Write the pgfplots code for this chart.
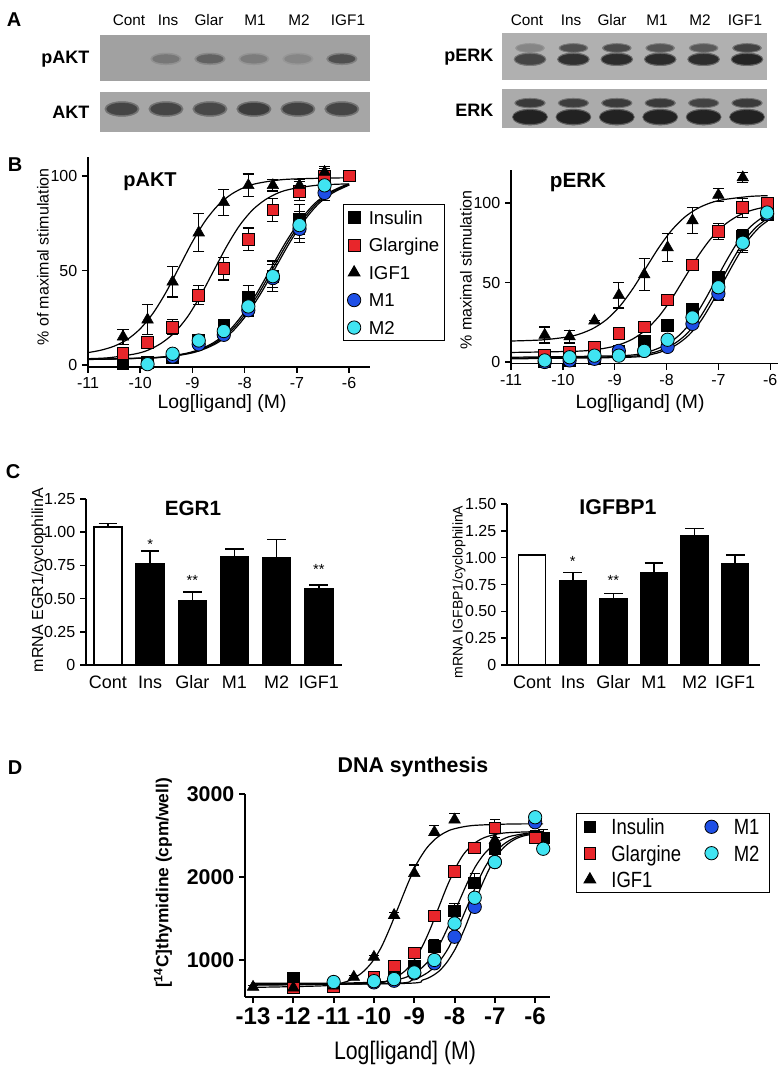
\documentclass[border=0pt]{standalone}
\usepackage{fontspec}
\setmainfont{Liberation Sans}
\newfontfamily\narrowfont[FakeStretch=0.84]{Liberation Sans}
\usepackage{pgfplots}
\pgfplotsset{compat=1.18}
\definecolor{myred}{HTML}{E8262B}
\definecolor{myblue}{HTML}{1E4FE6}
\definecolor{mycyan}{HTML}{40E4F2}
\newcommand{\fs}[2]{\fontsize{#1}{#2}\selectfont}
\pgfplotsset{
  blot/.style={scale only axis, ymin=0, ymax=1, xtick=\empty, ytick=\empty,
    axis line style={draw=none}, clip=true,
    colormap={bl}{gray(0cm)=(0.63); gray(1cm)=(0.12)},
    point meta min=0, point meta max=1},
  band/.style={scatter, only marks, mark=*, point meta=explicit,
    scatter/use mapped color={draw=mapped color, fill=mapped color}},
  gp/.style={scale only axis, axis lines*=left, clip=false,
    axis line style={line width=1.1pt},
    every tick/.style={line width=1.1pt, black},
    tick align=outside, major tick length=4.5pt,
    tick label style={font=\fs{12}{14}}},
  sq/.style={only marks, mark=square*, mark size=4.4pt, mark options={draw=black, line width=0.6pt}},
  tri/.style={only marks, mark=triangle*, mark size=5pt, mark options={draw=black, fill=black}},
  circ/.style={only marks, mark=*, mark size=5pt, mark options={draw=black, line width=0.6pt}},
  eb/.style={error bars/y dir=#1, error bars/y explicit,
    error bars/error bar style={line width=0.9pt, black},
    error bars/error mark options={rotate=90, mark size=4.2pt, line width=0.9pt, black}},
  ebd/.style={error bars/y dir=plus, error bars/y explicit,
    error bars/error bar style={line width=0.9pt, black},
    error bars/error mark options={rotate=90, mark size=3.8pt, line width=0.9pt, black}},
  fit/.style={smooth, line width=0.9pt, black, forget plot, no marks},
}
\begin{document}
\begin{tikzpicture}
\path[use as bounding box] (0,0) rectangle (588pt,800.25pt);

% ---------- panel letters ----------
\node[font=\bfseries\fs{15}{18}] at (10.5pt,785.25pt) {A};
\node[font=\bfseries\fs{15}{18}] at (11.25pt,676.5pt) {B};
\node[font=\bfseries\fs{15}{18}] at (9.75pt,446.25pt) {C};
\node[font=\bfseries\fs{15}{18}] at (11.25pt,224.25pt) {D};

% ---------- A: blots ----------
\begin{axis}[blot, at={(75pt,739.5pt)}, anchor=south west, width=202.5pt, height=34.5pt,
  xmin=0.5, xmax=6.64, axis background/.style={fill=black!37}]
\addplot[band, mark size=4.4pt, mark options={xscale=2.6}] coordinates {
 (2,0.48) [0.12] (3,0.48) [0.18] (4,0.48) [0.1] (5,0.48) [0.07] (6,0.48) [0.25]};
\addplot[band, mark size=3.2pt, mark options={xscale=3.1}] coordinates {
 (2,0.48) [0.32] (3,0.48) [0.48] (4,0.48) [0.28] (5,0.48) [0.2] (6,0.48) [0.62]};
\end{axis}
\begin{axis}[blot, at={(75pt,701.25pt)}, anchor=south west, width=202.5pt, height=30pt,
  xmin=0.5, xmax=6.64, axis background/.style={fill=black!35}]
\addplot[band, mark size=5.6pt, mark options={xscale=2.3}] coordinates {
 (1,0.575) [0.35] (2,0.575) [0.35] (3,0.575) [0.35] (4,0.575) [0.38] (5,0.575) [0.35] (6,0.575) [0.35]};
\addplot[band, mark size=4.4pt, mark options={xscale=2.6}] coordinates {
 (1,0.575) [0.7] (2,0.575) [0.7] (3,0.575) [0.68] (4,0.575) [0.76] (5,0.575) [0.72] (6,0.575) [0.7]};
\end{axis}
\begin{axis}[blot, at={(376.5pt,740.25pt)}, anchor=south west, width=198.75pt, height=35.25pt,
  xmin=0.355, xmax=6.46, axis background/.style={fill=black!31}]
\addplot[band, mark size=3.4pt, mark options={xscale=3.2}] coordinates {
 (1,0.68) [0.1] (2,0.68) [0.3] (3,0.68) [0.32] (4,0.68) [0.28] (5,0.68) [0.26] (6,0.68) [0.36]};
\addplot[band, mark size=2.6pt, mark options={xscale=3.7}] coordinates {
 (1,0.68) [0.2] (2,0.68) [0.62] (3,0.68) [0.66] (4,0.68) [0.58] (5,0.68) [0.55] (6,0.68) [0.72]};
\addplot[band, mark size=4.8pt, mark options={xscale=2.5}] coordinates {
 (1,0.44) [0.35] (2,0.44) [0.42] (3,0.44) [0.45] (4,0.44) [0.45] (5,0.44) [0.44] (6,0.44) [0.47]};
\addplot[band, mark size=3.8pt, mark options={xscale=2.9}] coordinates {
 (1,0.44) [0.7] (2,0.44) [0.86] (3,0.44) [0.9] (4,0.44) [0.9] (5,0.44) [0.88] (6,0.44) [0.95]};
\end{axis}
\begin{axis}[blot, at={(376.5pt,704.25pt)}, anchor=south west, width=198.75pt, height=29.25pt,
  xmin=0.355, xmax=6.46, axis background/.style={fill=black!33}]
\addplot[band, mark size=3.6pt, mark options={xscale=3.2}] coordinates {
 (1,0.64) [0.38] (2,0.64) [0.36] (3,0.64) [0.38] (4,0.64) [0.38] (5,0.64) [0.34] (6,0.64) [0.38]};
\addplot[band, mark size=2.8pt, mark options={xscale=3.7}] coordinates {
 (1,0.64) [0.78] (2,0.64) [0.75] (3,0.64) [0.78] (4,0.64) [0.78] (5,0.64) [0.72] (6,0.64) [0.78]};
\addplot[band, mark size=6pt, mark options={xscale=2.2}] coordinates {
 (1,0.28) [0.5] (2,0.28) [0.5] (3,0.28) [0.5] (4,0.28) [0.5] (5,0.28) [0.5] (6,0.28) [0.5]};
\addplot[band, mark size=5pt, mark options={xscale=2.5}] coordinates {
 (1,0.28) [0.97] (2,0.28) [0.97] (3,0.28) [0.97] (4,0.28) [0.97] (5,0.28) [0.97] (6,0.28) [0.97]};
\end{axis}
\begin{scope}[font=\fs{11.5}{13}]
\node at (96.75pt,785.25pt) {Cont};
\node at (126pt,785.25pt) {Ins};
\node at (156.75pt,785.25pt) {Glar};
\node at (191.25pt,785.25pt) {M1};
\node at (224.25pt,785.25pt) {M2};
\node at (261pt,785.25pt) {IGF1};
\node at (395.25pt,785.25pt) {Cont};
\node at (428.25pt,785.25pt) {Ins};
\node at (459pt,785.25pt) {Glar};
\node at (492.75pt,785.25pt) {M1};
\node at (525pt,785.25pt) {M2};
\node at (558.75pt,785.25pt) {IGF1};
\end{scope}
\begin{scope}[font=\bfseries\fs{13.5}{16}]
\node[anchor=east] at (70.5pt,756pt) {pAKT};
\node[anchor=east] at (70.5pt,716.25pt) {AKT};
\node[anchor=east] at (373.5pt,757.5pt) {pERK};
\node[anchor=east] at (373.5pt,717.75pt) {ERK};
\end{scope}

% ---------- B left: pAKT ----------
\begin{axis}[gp, at={(66pt,525pt)}, anchor=south west, width=211.5pt, height=157.5pt,
  xmin=-11, xmax=-5.6, ymin=-1, ymax=110,
  xtick={-11,-10,-9,-8,-7,-6}, xticklabels={-11,-10,-9,-8,-7,-6},
  ytick={0,50,100}, yticklabels={0,50,100},
  legend style={at={(0.904,0.776)}, anchor=north west, draw=black, line width=0.8pt,
    font=\fs{14}{16}, row sep=7.9pt, inner xsep=3pt, inner ysep=3.5pt,
    nodes={inner xsep=1pt, inner ysep=0pt},
    /tikz/every odd column/.style={column sep=5pt}},
  legend cell align=left]
\addlegendimage{sq, fill=black}\addlegendentry{\strut Insulin}
\addlegendimage{sq, fill=myred}\addlegendentry{\strut Glargine}
\addlegendimage{tri}\addlegendentry{\strut IGF1}
\addlegendimage{circ, fill=myblue}\addlegendentry{\strut M1}
\addlegendimage{circ, fill=mycyan}\addlegendentry{\strut M2}
\addplot[fit] coordinates {(-11,6.6) (-10.75,7.9) (-10.5,10.0) (-10.25,13.5) (-10,19.2) (-9.75,27.6) (-9.5,38.8) (-9.25,52) (-9,65.2) (-8.75,76.4) (-8.5,84.8) (-8.25,90.4) (-8,94.0) (-7.75,96.1) (-7.25,98.1) (-6.5,98.8) (-6,99.0)};
\addplot[fit] coordinates {(-11,3.4) (-10.6,3.9) (-10.1,5.9) (-9.85,7.9) (-9.6,11.5) (-9.35,17.0) (-9.1,25.3) (-8.85,36.5) (-8.6,49.5) (-8.35,62.5) (-8.1,73.7) (-7.85,82.0) (-7.6,87.5) (-7.35,91.1) (-7.1,93.1) (-6.6,95.1) (-6,95.8)};
\addplot[fit] coordinates {(-11,3.05) (-10.78,3.1) (-9.67,4.0) (-9.12,6.0) (-8.84,8.2) (-8.56,11.8) (-8.28,17.6) (-8.01,26.3) (-7.73,37.9) (-7.45,51.5) (-7.17,65.1) (-6.89,76.7) (-6.62,85.4) (-6.34,91.2) (-6.06,94.9) (-6,95.4)};
\addplot[fit] coordinates {(-11,3.0) (-10.74,3.1) (-9.63,4.0) (-9.08,6.0) (-8.80,8.2) (-8.52,11.8) (-8.24,17.6) (-7.97,26.3) (-7.69,37.9) (-7.41,51.5) (-7.13,65.1) (-6.85,76.7) (-6.58,85.4) (-6.30,91.2) (-6.02,94.9) (-6,95.1)};
\addplot[fit] coordinates {(-11,3.1) (-10.82,3.1) (-9.71,4.0) (-9.16,6.0) (-8.88,8.2) (-8.60,11.8) (-8.32,17.6) (-8.05,26.3) (-7.77,37.9) (-7.49,51.5) (-7.21,65.1) (-6.93,76.7) (-6.66,85.4) (-6.38,91.2) (-6.10,94.9) (-6,95.7)};
% data
\addplot[sq, fill=black, eb=both, forget plot] coordinates {(-10.33,1) +- (0,1) (-9.86,1.5) +- (0,1) (-9.38,4) +- (0,2) (-8.88,13) +- (0,2) (-8.40,21) +- (0,3) (-7.93,36) +- (0,6) (-7.46,47) +- (0,8) (-6.95,77) +- (0,8) (-6.47,97) +- (0,4)};
\addplot[sq, fill=myred, eb=both, forget plot] coordinates {(-10.33,6) +- (0,2) (-9.86,12) +- (0,3) (-9.38,20) +- (0,4) (-8.88,37) +- (0,5) (-8.40,51) +- (0,6) (-7.93,66.5) +- (0,6) (-7.46,82) +- (0,6) (-6.95,92) +- (0,5) (-6.47,100) +- (0,4) (-6.0,100) +- (0,0)};
\addplot[tri, eb=both, forget plot] coordinates {(-10.33,15) +- (0,4) (-9.86,24) +- (0,8) (-9.38,44) +- (0,8) (-8.88,70) +- (0,10) (-8.40,86) +- (0,7) (-7.93,95) +- (0,6) (-7.46,95) +- (0,3) (-6.95,95) +- (0,3) (-6.47,102) +- (0,3)};
\addplot[circ, fill=myblue, eb=both, forget plot] coordinates {(-9.38,4.5) +- (0,1) (-8.88,11) +- (0,2) (-8.40,16) +- (0,2) (-7.93,29) +- (0,3) (-7.46,46) +- (0,7) (-6.95,72) +- (0,7) (-6.47,91) +- (0,4)};
\addplot[circ, fill=mycyan, eb=both, forget plot] coordinates {(-9.86,0.5) +- (0,1) (-9.38,6) +- (0,1) (-8.88,13) +- (0,2) (-8.40,18) +- (0,2) (-7.93,31) +- (0,3) (-7.46,47) +- (0,6) (-6.95,74) +- (0,7) (-6.47,95) +- (0,4)};
\end{axis}
\node[font=\bfseries\fs{15}{18}] at (112.5pt,663.75pt) {pAKT};
\node[rotate=90, font=\fs{12}{14}] at (32.25pt,607.5pt) {\% of maximal stimulation};
\node[font=\fs{14.5}{17}] at (166.5pt,497.25pt) {Log[ligand] (M)};

% ---------- B right: pERK ----------
\begin{axis}[gp, at={(383.25pt,527.55pt)}, anchor=south west, width=200.25pt, height=145.5pt,
  xmin=-11, xmax=-5.85, ymin=-1, ymax=121,
  xtick={-11,-10,-9,-8,-7,-6}, xticklabels={-11,-10,-9,-8,-7,-6},
  ytick={0,50,100}, yticklabels={0,50,100}]
\addplot[fit] coordinates {(-11,13.2) (-10.4,13.9) (-9.9,15.8) (-9.65,17.9) (-9.4,21.4) (-9.15,26.9) (-8.9,35.1) (-8.65,46.1) (-8.4,59) (-8.15,71.9) (-7.9,82.9) (-7.65,91.1) (-7.4,96.6) (-7.15,100.1) (-6.9,102.1) (-6.4,104.1) (-6.05,104.6)};
\addplot[fit] coordinates {(-11,6.0) (-9.65,6.9) (-9.15,8.9) (-8.9,11.0) (-8.65,14.5) (-8.4,20.2) (-8.15,28.6) (-7.9,39.8) (-7.65,53) (-7.4,66.2) (-7.15,77.4) (-6.9,85.8) (-6.65,91.4) (-6.4,95.0) (-6.15,97.1) (-6.05,97.6)};
\addplot[fit] coordinates {(-11,3.0) (-8.87,4.0) (-8.41,6.0) (-8.19,8.2) (-7.96,11.8) (-7.73,17.6) (-7.50,26.3) (-7.28,37.9) (-7.05,51.5) (-6.82,65.1) (-6.60,76.7) (-6.37,85.4) (-6.14,91.2) (-6.05,92.6)};
\addplot[fit] coordinates {(-11,2.5) (-8.77,3.5) (-8.31,5.5) (-8.09,7.7) (-7.86,11.3) (-7.63,17.1) (-7.40,25.8) (-7.18,37.4) (-6.95,51) (-6.72,64.6) (-6.50,76.2) (-6.27,84.9) (-6.05,90.3)};
\addplot[fit] coordinates {(-11,2) (-8.72,3) (-8.26,5) (-8.04,7.2) (-7.81,10.8) (-7.58,16.6) (-7.35,25.3) (-7.13,36.9) (-6.90,50.5) (-6.67,64.1) (-6.45,75.7) (-6.22,84.4) (-6.05,88.7)};
\addplot[sq, fill=black, eb=both] coordinates {(-10.35,0) +- (0,1) (-9.87,1) +- (0,1) (-9.39,2) +- (0,1) (-8.92,7) +- (0,2) (-8.43,13) +- (0,2) (-7.98,23) +- (0,1) (-7.50,33) +- (0,2) (-7.0,53) +- (0,4) (-6.53,79) +- (0,4) (-6.06,93) +- (0,3)};
\addplot[sq, fill=myred, eb=both] coordinates {(-10.35,4) +- (0,1) (-9.87,6) +- (0,2) (-9.39,9) +- (0,1) (-8.92,18) +- (0,1) (-8.43,22) +- (0,3) (-7.98,39) +- (0,2) (-7.50,61) +- (0,2) (-7.0,82) +- (0,5) (-6.53,97) +- (0,6) (-6.06,100) +- (0,0)};
\addplot[tri, eb=both] coordinates {(-10.35,17) +- (0,5) (-9.87,16) +- (0,4) (-9.39,26) +- (0,0) (-8.92,42) +- (0,8) (-8.43,55) +- (0,10) (-7.98,72) +- (0,9) (-7.50,89) +- (0,8) (-7.0,105) +- (0,4) (-6.53,116) +- (0,3)};
\addplot[circ, fill=myblue, eb=both] coordinates {(-10.35,0) +- (0,1) (-9.87,1) +- (0,2) (-9.39,2) +- (0,2) (-8.92,7) +- (0,2) (-8.43,7) +- (0,3) (-7.98,9.5) +- (0,3) (-7.50,24) +- (0,2) (-7.0,43) +- (0,4) (-6.53,75) +- (0,5) (-6.06,93) +- (0,4)};
\addplot[circ, fill=mycyan, eb=both] coordinates {(-10.35,1) +- (0,1) (-9.87,3) +- (0,1) (-9.39,4) +- (0,1) (-8.92,4) +- (0,1) (-8.43,7) +- (0,2) (-7.98,14) +- (0,2) (-7.50,28) +- (0,3) (-7.0,47) +- (0,4) (-6.53,75) +- (0,6) (-6.06,94) +- (0,4)};
\end{axis}
\node[font=\bfseries\fs{15.5}{18}] at (433.5pt,663pt) {pERK};
\node[rotate=90, font=\fs{12}{14}] at (349.5pt,597.75pt) {\% maximal stimulation};
\node[font=\fs{14.5}{17}] at (480pt,497.25pt) {Log[ligand] (M)};

% ---------- C left: EGR1 ----------
\begin{axis}[gp, at={(64.5pt,301.5pt)}, anchor=south west, width=192pt, height=124.5pt,
  xmin=-0.52, xmax=5.55, ymin=0, ymax=1.25,
  xtick={0,1,2,3,4,5}, xticklabels={Cont,Ins,Glar,M1,M2,IGF1},
  x tick style={draw=none},
  x tick label style={font=\fs{13.5}{16}},
  y tick label style={font=\fs{12}{14}},
  ytick={0,0.25,0.5,0.75,1,1.25}, yticklabels={0,0.25,0.50,0.75,1.00,1.25}]
\addplot[ybar, bar width=21pt, bar shift=0pt, fill=white, draw=black, line width=1.1pt,
  error bars/.cd, y dir=plus, y explicit, error bar style={line width=1.1pt, black},
  error mark options={rotate=90, mark size=7pt, line width=1.1pt, black}]
  coordinates {(0,1.04) +- (0,0.025)};
\addplot[ybar, bar width=21pt, bar shift=0pt, fill=black, draw=black, line width=1.1pt,
  error bars/.cd, y dir=plus, y explicit, error bar style={line width=1.1pt, black},
  error mark options={rotate=90, mark size=7pt, line width=1.1pt, black}]
  coordinates {(1,0.765) +- (0,0.095) (2,0.485) +- (0,0.065) (3,0.815) +- (0,0.06) (4,0.805) +- (0,0.14) (5,0.572) +- (0,0.03)};
\node[font=\fs{11}{13}] at (axis cs:1,0.91) {*};
\node[font=\fs{11}{13}] at (axis cs:2,0.64) {**};
\node[font=\fs{11}{13}] at (axis cs:5,0.72) {**};
\end{axis}
\node[font=\bfseries\fs{15.5}{18}] at (144.75pt,419.25pt) {EGR1};
\node[rotate=90, font=\fs{12}{14}] at (29.25pt,365.25pt) {mRNA EGR1/cyclophilinA};

% ---------- C right: IGFBP1 ----------
\begin{axis}[gp, at={(380.25pt,301.5pt)}, anchor=south west, width=189.4pt, height=120.75pt,
  xmin=-0.62, xmax=5.6, ymin=0, ymax=1.5,
  xtick={0,1,2,3,4,5}, xticklabels={Cont,Ins,Glar,M1,M2,IGF1},
  x tick style={draw=none},
  x tick label style={font=\fs{13.5}{16}},
  y tick label style={font=\fs{12}{14}},
  ytick={0,0.25,0.5,0.75,1,1.25,1.5}, yticklabels={0,0.25,0.50,0.75,1.00,1.25,1.50}]
\addplot[ybar, bar width=20.25pt, bar shift=0pt, fill=white, draw=black, line width=1.1pt,
  error bars/.cd, y dir=plus, y explicit, error bar style={line width=1.1pt, black},
  error mark options={rotate=90, mark size=7pt, line width=1.1pt, black}]
  coordinates {(0,1.025) +- (0,0.005)};
\addplot[ybar, bar width=20.25pt, bar shift=0pt, fill=black, draw=black, line width=1.1pt,
  error bars/.cd, y dir=plus, y explicit, error bar style={line width=1.1pt, black},
  error mark options={rotate=90, mark size=7pt, line width=1.1pt, black}]
  coordinates {(1,0.785) +- (0,0.075) (2,0.615) +- (0,0.05) (3,0.855) +- (0,0.095) (4,1.2) +- (0,0.07) (5,0.94) +- (0,0.085)};
\node[font=\fs{11}{13}] at (axis cs:1,0.96) {*};
\node[font=\fs{11}{13}] at (axis cs:2,0.79) {**};
\end{axis}
\node[font=\bfseries\fs{16}{19}] at (463.5pt,420pt) {IGFBP1};
\node[rotate=90, font=\fs{10.5}{12}] at (344.25pt,356.25pt) {mRNA IGFBP1/cyclophilinA};

% ---------- D: DNA synthesis ----------
\begin{axis}[gp, at={(183.75pt,52.5pt)}, anchor=south west, width=229.1pt, height=152.25pt,
  xmin=-13.2, xmax=-5.62, ymin=554, ymax=3000,
  axis line style={line width=1.5pt},
  every tick/.style={line width=1.5pt, black},
  xtick={-13,-12,-11,-10,-9,-8,-7,-6}, xticklabels={-13,-12,-11,-10,-9,-8,-7,-6},
  ytick={1000,2000,3000}, yticklabels={1000,2000,3000},
  x tick label style={font=\bfseries\fs{18}{21}},
  y tick label style={font=\bfseries\fs{16}{19}},
  legend columns=2,
  legend style={at={(1.083,0.906)}, anchor=north west, draw=black, line width=0.8pt,
    font=\narrowfont\fs{16.5}{19}, row sep=5pt, inner xsep=5.75pt, inner ysep=2.5pt,
    nodes={inner xsep=1.5pt, inner ysep=0pt},
    /tikz/every odd column/.style={column sep=10.2pt},
    /tikz/column 2/.style={column sep=16.25pt},
    /tikz/column 3/.style={column sep=2pt}},
  legend cell align=left]
\addlegendimage{only marks, mark=square*, mark size=4pt, fill=black}\addlegendentry{\strut Insulin}
\addlegendimage{circ, fill=myblue}\addlegendentry{\strut M1}
\addlegendimage{sq, fill=myred}\addlegendentry{\strut Glargine}
\addlegendimage{circ, fill=mycyan}\addlegendentry{\strut M2}
\addlegendimage{tri}\addlegendentry{\strut IGF1}
\addplot[fit] coordinates {(-13,670) (-11.2,690) (-10.74,731) (-10.52,775) (-10.29,849) (-10.06,967) (-9.83,1143) (-9.61,1379) (-9.38,1655) (-9.15,1931) (-8.93,2167) (-8.70,2343) (-8.47,2461) (-8.24,2536) (-8.02,2579) (-7.56,2620) (-6.65,2638) (-5.8,2640)};
\addplot[fit] coordinates {(-13,700) (-10.07,718) (-9.65,757) (-9.44,798) (-9.23,868) (-9.03,979) (-8.82,1144) (-8.61,1366) (-8.4,1625) (-8.19,1884) (-7.98,2106) (-7.78,2271) (-7.57,2382) (-7.36,2452) (-7.15,2493) (-6.73,2532) (-5.8,2549)};
\addplot[fit] coordinates {(-13,720) (-11,720) (-9.77,738) (-9.31,776) (-9.09,817) (-8.86,886) (-8.63,996) (-8.40,1159) (-8.18,1379) (-7.95,1635) (-7.72,1891) (-7.50,2111) (-7.27,2274) (-7.04,2383) (-6.81,2453) (-6.59,2493) (-6.13,2532) (-5.8,2543)};
\addplot[fit] coordinates {(-13,700) (-9.22,718) (-8.8,757) (-8.59,798) (-8.38,868) (-8.18,979) (-7.97,1144) (-7.76,1366) (-7.55,1625) (-7.34,1884) (-7.13,2106) (-6.93,2271) (-6.72,2382) (-6.51,2452) (-6.3,2493) (-5.88,2532) (-5.8,2535)};
\addplot[fit] coordinates {(-13,700) (-9.52,718) (-9.06,757) (-8.84,799) (-8.61,869) (-8.38,981) (-8.15,1146) (-7.93,1370) (-7.7,1630) (-7.47,1890) (-7.25,2114) (-7.02,2279) (-6.79,2391) (-6.56,2461) (-6.34,2502) (-5.88,2541) (-5.8,2543)};
\addplot[sq, fill=black, ebd, forget plot] coordinates {(-12,785) +- (0,10) (-11,700) +- (0,10) (-10,760) +- (0,10) (-9.5,810) +- (0,15) (-9,930) +- (0,20) (-8.5,1160) +- (0,80) (-8,1590) +- (0,90) (-7.5,1930) +- (0,110) (-7,2340) +- (0,60) (-5.8,2470) +- (0,100)};
\addplot[sq, fill=myred, ebd, forget plot] coordinates {(-12,665) +- (0,10) (-11,680) +- (0,10) (-10,795) +- (0,10) (-9.5,930) +- (0,20) (-9,1085) +- (0,20) (-8.5,1530) +- (0,30) (-8,2070) +- (0,30) (-7.5,2350) +- (0,60) (-7,2590) +- (0,100) (-6,2470) +- (0,90)};
\addplot[tri, ebd, forget plot] coordinates {(-13,675) +- (0,15) (-12,665) +- (0,15) (-11,690) +- (0,15) (-10.5,795) +- (0,20) (-10,1035) +- (0,20) (-9.5,1540) +- (0,30) (-9,2045) +- (0,100) (-8.5,2540) +- (0,85) (-8,2690) +- (0,75) (-7,2445) +- (0,30)};
\addplot[circ, fill=myblue, ebd, forget plot] coordinates {(-10,730) +- (0,10) (-9.5,750) +- (0,10) (-9,840) +- (0,15) (-8.5,960) +- (0,20) (-8,1280) +- (0,30) (-7.5,1640) +- (0,80) (-7,2180) +- (0,40) (-6,2660) +- (0,60)};
\addplot[circ, fill=mycyan, ebd, forget plot] coordinates {(-11,735) +- (0,10) (-10,745) +- (0,10) (-9.5,770) +- (0,10) (-9,850) +- (0,15) (-8.5,1000) +- (0,20) (-8,1440) +- (0,30) (-7.5,1750) +- (0,40) (-7,2180) +- (0,40) (-6,2720) +- (0,40) (-5.8,2340) +- (0,30)};
\end{axis}
\node[font=\bfseries\fs{16}{19}] at (309.75pt,225pt) {DNA synthesis};
\node[rotate=90, font=\bfseries\fs{13}{15}] at (122.25pt,138pt) {[\textsuperscript{14}C]thymidine (cpm/well)};
\node[font=\narrowfont\fs{19}{22}] at (303.75pt,10.5pt) {Log[ligand] (M)};
\end{tikzpicture}
\end{document}
